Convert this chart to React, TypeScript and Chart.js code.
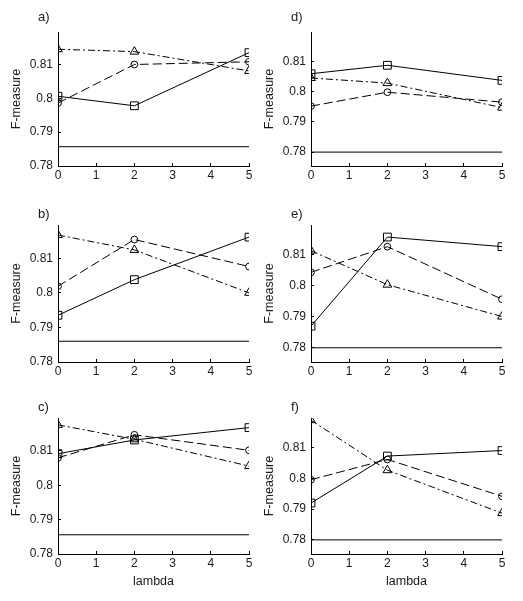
import React, { useEffect, useRef } from "react";
import { Chart, registerables } from "chart.js";

Chart.register(...registerables);

// ---------- data ----------
const lambdaValues = [0, 2, 5];
const xTickValues = [0, 1, 2, 3, 4, 5];
const yTickValues = [0.78, 0.79, 0.8, 0.81];
const panelLabels = ["a)", "b)", "c)", "d)", "e)", "f)"];

// panel a
const squareA = [0.8006, 0.7978, 0.8135];
const circleA = [0.7986, 0.81, 0.8108];
const triangleA = [0.8145, 0.8138, 0.8081];
const baselineA = 0.7857;

// panel b
const squareB = [0.7935, 0.8038, 0.8161];
const circleB = [0.8019, 0.8154, 0.8076];
const triangleB = [0.8167, 0.8124, 0.8];
const baselineB = 0.786;

// panel c
const squareC = [0.8092, 0.8132, 0.8168];
const circleC = [0.808, 0.8147, 0.8102];
const triangleC = [0.8176, 0.8134, 0.8056];
const baselineC = 0.7856;

// panel d
const squareD = [0.8059, 0.8087, 0.8037];
const circleD = [0.7952, 0.7998, 0.7965];
const triangleD = [0.8045, 0.8028, 0.7947];
const baselineD = 0.78;

// panel e
const squareE = [0.787, 0.8158, 0.8127];
const circleE = [0.8044, 0.8127, 0.7957];
const triangleE = [0.8114, 0.8004, 0.7901];
const baselineE = 0.78;

// panel f
const squareF = [0.792, 0.8073, 0.8091];
const circleF = [0.7996, 0.8062, 0.7942];
const triangleF = [0.819, 0.8027, 0.7887];
const baselineF = 0.78;

const yRangeLeft = [0.78, 0.8196];
const yRangeRight = [0.7754, 0.8197];

const xTitle = "lambda";
const yTitle = "F-measure";

// ---------- layout ----------
const COLS = [
  { x: 0, w: 262, plotLeft: 58, plotRight: 249, yTitlePad: 9 },
  { x: 262, w: 261, plotLeft: 311, plotRight: 502, yTitlePad: 0.5 },
];
const ROWS = [
  { y: 0, h: 200, plotTop: 32, plotBottom: 166, labelY: 17 },
  { y: 200, h: 200, plotTop: 225, plotBottom: 362, labelY: 214 },
  { y: 400, h: 201, plotTop: 418, plotBottom: 554, labelY: 407 },
];

type Panel = {
  label: string;
  square: number[];
  circle: number[];
  triangle: number[];
  baseline: number;
  yRange: number[];
  col: number;
  row: number;
};

const panels: Panel[] = [
  { label: panelLabels[0], square: squareA, circle: circleA, triangle: triangleA, baseline: baselineA, yRange: yRangeLeft, col: 0, row: 0 },
  { label: panelLabels[1], square: squareB, circle: circleB, triangle: triangleB, baseline: baselineB, yRange: yRangeLeft, col: 0, row: 1 },
  { label: panelLabels[2], square: squareC, circle: circleC, triangle: triangleC, baseline: baselineC, yRange: yRangeLeft, col: 0, row: 2 },
  { label: panelLabels[3], square: squareD, circle: circleD, triangle: triangleD, baseline: baselineD, yRange: yRangeRight, col: 1, row: 0 },
  { label: panelLabels[4], square: squareE, circle: circleE, triangle: triangleE, baseline: baselineE, yRange: yRangeRight, col: 1, row: 1 },
  { label: panelLabels[5], square: squareF, circle: circleF, triangle: triangleF, baseline: baselineF, yRange: yRangeRight, col: 1, row: 2 },
];

const FONT_FAMILY = "'Liberation Sans', Arial, Helvetica, sans-serif";
const TEXT_COLOR = "#1a1a1a";
const LINE_COLOR = "#000";

function makeChart(canvas: HTMLCanvasElement, p: Panel) {
  const col = COLS[p.col];
  const row = ROWS[p.row];
  const tickFont = { family: FONT_FAMILY, size: 12 };
  const titleFont = { family: FONT_FAMILY, size: 12.5 };

  const series = (vals: number[], style: string, radius: number, dash: number[]) => ({
    data: lambdaValues.map((x, i) => ({ x, y: vals[i] })),
    borderColor: LINE_COLOR,
    borderWidth: 1,
    borderDash: dash,
    pointStyle: style,
    pointRadius: radius,
    pointHoverRadius: radius,
    pointBorderColor: LINE_COLOR,
    pointBackgroundColor: "rgba(0,0,0,0)",
    pointBorderWidth: 1,
    tension: 0,
    fill: false,
  });

  const labelPlugin = {
    id: "panelLabel",
    afterDraw(chart: any) {
      const ctx = chart.ctx;
      ctx.save();
      ctx.font = `13px ${FONT_FAMILY}`;
      ctx.fillStyle = TEXT_COLOR;
      ctx.textAlign = "left";
      ctx.textBaseline = "middle";
      ctx.fillText(p.label, chart.chartArea.left - 20, row.labelY - row.y);
      ctx.restore();
    },
  };

  return new Chart(canvas, {
    type: "line",
    data: {
      datasets: [
        {
          data: [
            { x: xTickValues[0], y: p.baseline },
            { x: xTickValues[xTickValues.length - 1], y: p.baseline },
          ],
          borderColor: LINE_COLOR,
          borderWidth: 1,
          pointRadius: 0,
          pointHoverRadius: 0,
          fill: false,
        } as any,
        series(p.square, "rect", 5.5, []),
        series(p.circle, "circle", 3.4, [9, 4]),
        series(p.triangle, "triangle", 5, [7, 3, 2, 3]),
      ],
    },
    options: {
      animation: false,
      responsive: false,
      devicePixelRatio: 1,
      events: [],
      layout: {
        padding: {
          left: 0,
          top: row.plotTop - row.y,
          right: col.x + col.w - col.plotRight,
          bottom: 0,
        },
      },
      plugins: {
        legend: { display: false },
        tooltip: { enabled: false },
        title: { display: false },
      },
      scales: {
        x: {
          type: "linear",
          min: xTickValues[0],
          max: xTickValues[xTickValues.length - 1],
          afterBuildTicks: (s: any) => {
            s.ticks = xTickValues.map((v) => ({ value: v }));
          },
          afterFit: (s: any) => {
            s.height = row.y + row.h - row.plotBottom;
          },
          grid: {
            drawOnChartArea: false,
            drawTicks: true,
            tickLength: -3,
            color: LINE_COLOR,
            lineWidth: 1,
          },
          border: { display: true, color: LINE_COLOR, width: 1 },
          ticks: {
            font: tickFont,
            color: TEXT_COLOR,
            padding: 5,
            maxRotation: 0,
            autoSkip: false,
            callback: (v: any) => String(v),
          },
          title: {
            display: p.row === 2,
            text: xTitle,
            font: titleFont,
            color: TEXT_COLOR,
            padding: { top: 0, bottom: 11.5 },
          },
        },
        y: {
          type: "linear",
          min: p.yRange[0],
          max: p.yRange[1],
          afterBuildTicks: (s: any) => {
            s.ticks = yTickValues.map((v) => ({ value: v }));
          },
          afterFit: (s: any) => {
            s.width = col.plotLeft - col.x;
          },
          grid: {
            drawOnChartArea: false,
            drawTicks: true,
            tickLength: -3,
            color: LINE_COLOR,
            lineWidth: 1,
          },
          border: { display: true, color: LINE_COLOR, width: 1 },
          ticks: {
            font: tickFont,
            color: TEXT_COLOR,
            padding: 8,
            autoSkip: false,
            callback: (v: any) => String(Number(Number(v).toFixed(2))),
          },
          title: {
            display: true,
            text: yTitle,
            font: titleFont,
            color: TEXT_COLOR,
            padding: { top: col.yTitlePad, bottom: 0 },
          },
        },
      },
    } as any,
    plugins: [labelPlugin as any],
  });
}

export default function App() {
  const refs = useRef<(HTMLCanvasElement | null)[]>([]);

  useEffect(() => {
    const charts: Chart[] = [];
    panels.forEach((p, i) => {
      const c = refs.current[i];
      if (c) charts.push(makeChart(c, p));
    });
    return () => charts.forEach((ch) => ch.destroy());
  }, []);

  return (
    <div
      style={{
        position: "fixed",
        left: 0,
        top: 0,
        width: 523,
        height: 601,
        background: "#fff",
        overflow: "hidden",
      }}
    >
      {panels.map((p, i) => {
        const col = COLS[p.col];
        const row = ROWS[p.row];
        return (
          <canvas
            key={p.label}
            ref={(el) => {
              refs.current[i] = el;
            }}
            width={col.w}
            height={row.h}
            style={{
              position: "absolute",
              left: col.x,
              top: row.y,
              width: col.w,
              height: row.h,
              display: "block",
            }}
          />
        );
      })}
    </div>
  );
}
